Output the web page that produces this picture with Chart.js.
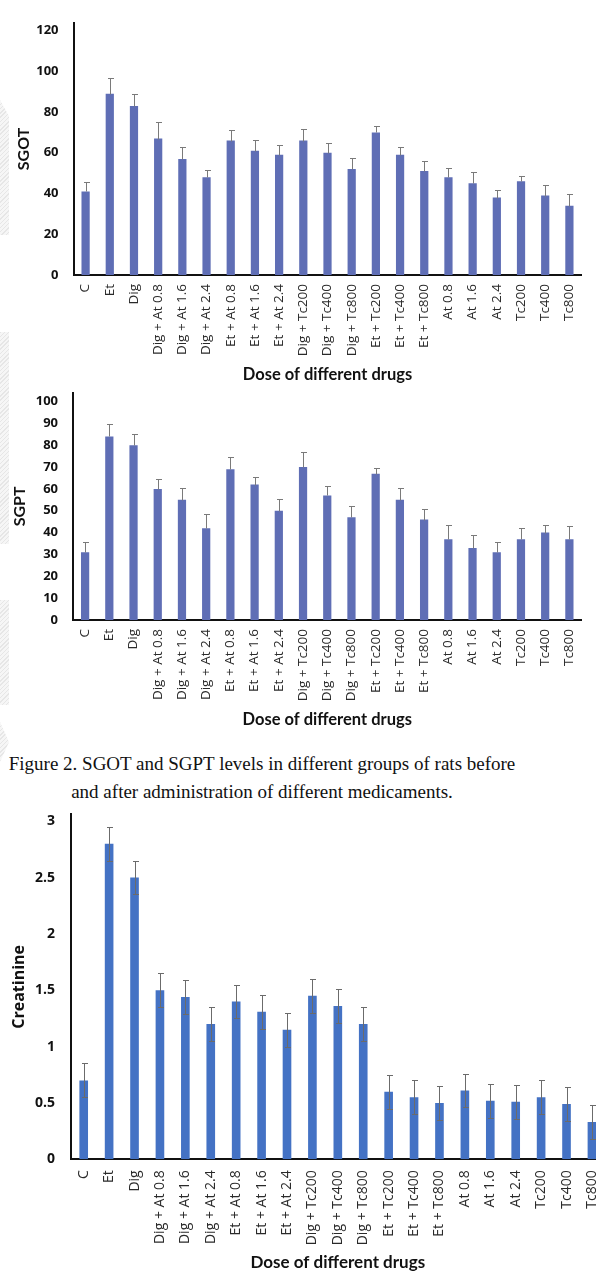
<!DOCTYPE html>
<html>
<head>
<meta charset="utf-8">
<script src="https://cdn.jsdelivr.net/npm/chart.js@4.4.1/dist/chart.umd.min.js"></script>
<style>
  html, body { margin: 0; padding: 0; background: #fff; }
  body { width: 596px; height: 1273px; overflow: hidden; position: relative; }
  .panel { position: absolute; left: 0; }
  .panel canvas { display: block; }
  .edge {
    position: absolute; left: 0; width: 9px;
    background: repeating-linear-gradient(135deg, #e6e6e6 0 1px, #f6f6f6 1px 3px);
  }
  #caption {
    position: absolute; left: 0; top: 749.5px; width: 524px;
    text-align: center; color: #111;
    font-family: "Liberation Serif", "Times New Roman", serif;
    font-size: 19px; line-height: 28px; white-space: nowrap;
  }
</style>
</head>
<body>
<div class="edge" style="top:100px;height:135px;clip-path:polygon(0 0,100% 12%,100% 100%,0 100%)"></div>
<div class="edge" style="top:332px;height:212px"></div>
<div class="edge" style="top:600px;height:105px"></div>
<div class="edge" style="top:722px;height:40px;clip-path:polygon(0 0,100% 50%,0 100%)"></div>

<div class="panel" style="top:0px"><canvas id="sgotChart" width="596" height="385"></canvas></div>
<div class="panel" style="top:370px"><canvas id="sgptChart" width="596" height="360"></canvas></div>
<div id="caption">Figure 2. SGOT and SGPT levels in different groups of rats before<br>and after administration of different medicaments.</div>
<div class="panel" style="top:790px"><canvas id="creatChart" width="620" height="483"></canvas></div>

<script>
// Treatment groups (x axis)
const groups = [
  'C', 'Et', 'Dig',
  'Dig + At 0.8', 'Dig + At 1.6', 'Dig + At 2.4',
  'Et + At 0.8', 'Et + At 1.6', 'Et + At 2.4',
  'Dig + Tc200', 'Dig + Tc400', 'Dig + Tc800',
  'Et + Tc200', 'Et + Tc400', 'Et + Tc800',
  'At 0.8', 'At 1.6', 'At 2.4',
  'Tc200', 'Tc400', 'Tc800'
];

// SGOT means and standard errors
const sgotMean = [41, 89, 83, 67, 57, 48, 66, 61, 59, 66, 60, 52, 70, 59, 51, 48, 45, 38, 46, 39, 34];
const sgotErr  = [4.5, 7.5, 6, 8, 6, 3.5, 5, 5.5, 5, 5.5, 5, 5.5, 3.3, 3.6, 5, 4.5, 5.4, 3.5, 2.5, 5, 5.7];

// SGPT means and standard errors
const sgptMean = [31, 84, 80, 60, 55, 42, 69, 62, 50, 70, 57, 47, 67, 55, 46, 37, 33, 31, 37, 40, 37];
const sgptErr  = [4.6, 5.9, 5.2, 4.6, 5.6, 6.4, 5.6, 3.5, 5.2, 6.7, 4.3, 5.2, 2.7, 5.5, 4.7, 6.7, 5.8, 4.6, 5.0, 3.7, 6.2];

// Creatinine means and standard errors
const creatMean = [0.7, 2.8, 2.5, 1.5, 1.44, 1.2, 1.4, 1.31, 1.15, 1.45, 1.36, 1.2, 0.6, 0.55, 0.5, 0.61, 0.52, 0.51, 0.55, 0.49, 0.33];
const creatErr  = [0.15, 0.15, 0.15, 0.15, 0.15, 0.15, 0.15, 0.15, 0.15, 0.15, 0.15, 0.15, 0.15, 0.15, 0.15, 0.15, 0.15, 0.15, 0.15, 0.15, 0.15];

// Y tick values
const sgotTicks  = [0, 20, 40, 60, 80, 100, 120];
const sgptTicks  = [0, 10, 20, 30, 40, 50, 60, 70, 80, 90, 100];
const creatTicks = [0, 0.5, 1, 1.5, 2, 2.5, 3];

const xTitle = 'Dose of different drugs';

// Draws error bars from each bar's value through the y scale
const errorBarPlugin = {
  id: 'errorBars',
  afterDatasetsDraw(chart, args, opts) {
    const meta = chart.getDatasetMeta(0);
    const values = chart.data.datasets[0].data;
    const yScale = chart.scales.y;
    const ctx = chart.ctx;
    const cap = opts.capHalf;
    ctx.save();
    ctx.strokeStyle = opts.color;
    ctx.lineWidth = opts.lineWidth;
    meta.data.forEach((bar, i) => {
      const v = values[i], e = opts.errors[i];
      const x = Math.round(bar.x) + 0.5;
      const yHi = Math.round(yScale.getPixelForValue(v + e)) + 0.5;
      const yLo = Math.round(yScale.getPixelForValue(opts.symmetric ? v - e : v)) + 0.5;
      ctx.beginPath();
      ctx.moveTo(x, yLo);
      ctx.lineTo(x, yHi);
      ctx.moveTo(x - cap, yHi);
      ctx.lineTo(x + cap + 1, yHi);
      if (opts.symmetric) {
        ctx.moveTo(x - cap, yLo);
        ctx.lineTo(x + cap + 1, yLo);
      }
      ctx.stroke();
    });
    ctx.restore();
  }
};

function buildChart(id, cfg) {
  return new Chart(document.getElementById(id), {
    type: 'bar',
    data: {
      labels: groups,
      datasets: [{
        data: cfg.values,
        backgroundColor: cfg.barColor,
        borderWidth: 0,
        barPercentage: cfg.barPct,
        categoryPercentage: 1
      }]
    },
    plugins: [errorBarPlugin],
    options: {
      responsive: false,
      animation: false,
      devicePixelRatio: 1,
      layout: { padding: { top: cfg.padTop, right: cfg.padRight, left: 0, bottom: 0 } },
      plugins: {
        legend: { display: false },
        tooltip: { enabled: false },
        errorBars: {
          errors: cfg.errors,
          symmetric: cfg.symmetric,
          color: cfg.errColor,
          lineWidth: 1,
          capHalf: 2.5
        }
      },
      scales: {
        x: {
          type: 'category',
          grid: { display: false, drawTicks: false },
          border: { display: true, color: '#111', width: 2 },
          ticks: {
            autoSkip: false,
            minRotation: 90,
            maxRotation: 90,
            padding: cfg.xPad,
            color: '#2a2a2a',
            font: { family: 'Open Sans', size: cfg.xTickSize }
          },
          title: {
            display: true,
            text: xTitle,
            color: '#111',
            padding: { top: 0, bottom: 0 },
            font: { family: 'Lato', size: cfg.xTitleSize, weight: 'bold' }
          },
          afterFit: s => { s.height = cfg.xHeight; }
        },
        y: {
          min: 0,
          max: cfg.yMax,
          grid: { display: false, drawTicks: false },
          border: { display: true, color: '#111', width: 2 },
          afterBuildTicks: axis => { axis.ticks = cfg.ticks.map(v => ({ value: v })); },
          ticks: {
            padding: cfg.yPad,
            color: '#111',
            font: { family: 'Open Sans', size: cfg.yTickSize, weight: 'bold' },
            callback: v => String(v)
          },
          title: {
            display: true,
            text: cfg.yTitle,
            color: '#111',
            padding: { top: cfg.yTitlePad, bottom: 0 },
            font: { family: cfg.yTitleFont, size: cfg.yTitleSize, weight: 'bold' }
          },
          afterFit: s => { s.width = cfg.yWidth; }
        }
      }
    }
  });
}

buildChart('sgotChart', {
  values: sgotMean, errors: sgotErr, symmetric: false,
  barColor: '#5f6eb5', errColor: '#7a7a7a', barPct: 0.34,
  ticks: sgotTicks, yMax: 123.8, yTitle: 'SGOT',
  yTickSize: 13, xTickSize: 13.5, xTitleSize: 16.5, yTitleFont: 'Lato', yTitleSize: 16,
  padTop: 14, padRight: 14.5, yWidth: 73.5, xHeight: 110,
  xPad: 9, yPad: 15, yTitlePad: 14
});

buildChart('sgptChart', {
  values: sgptMean, errors: sgptErr, symmetric: false,
  barColor: '#5f6eb5', errColor: '#7a7a7a', barPct: 0.34,
  ticks: sgptTicks, yMax: 104, yTitle: 'SGPT',
  yTickSize: 13, xTickSize: 13.5, xTitleSize: 16.5, yTitleFont: 'Lato', yTitleSize: 16,
  padTop: 15, padRight: 14.5, yWidth: 73, xHeight: 110,
  xPad: 9, yPad: 15, yTitlePad: 10
});

buildChart('creatChart', {
  values: creatMean, errors: creatErr, symmetric: true,
  barColor: '#4472c4', errColor: '#6b6b6b', barPct: 0.34,
  ticks: creatTicks, yMax: 3.06, yTitle: 'Creatinine',
  yTickSize: 14, xTickSize: 14, xTitleSize: 17, yTitleFont: 'Open Sans', yTitleSize: 16,
  padTop: 20, padRight: 11, yWidth: 71, xHeight: 113.7,
  xPad: 11, yPad: 16, yTitlePad: 10
});
</script>
</body>
</html>
